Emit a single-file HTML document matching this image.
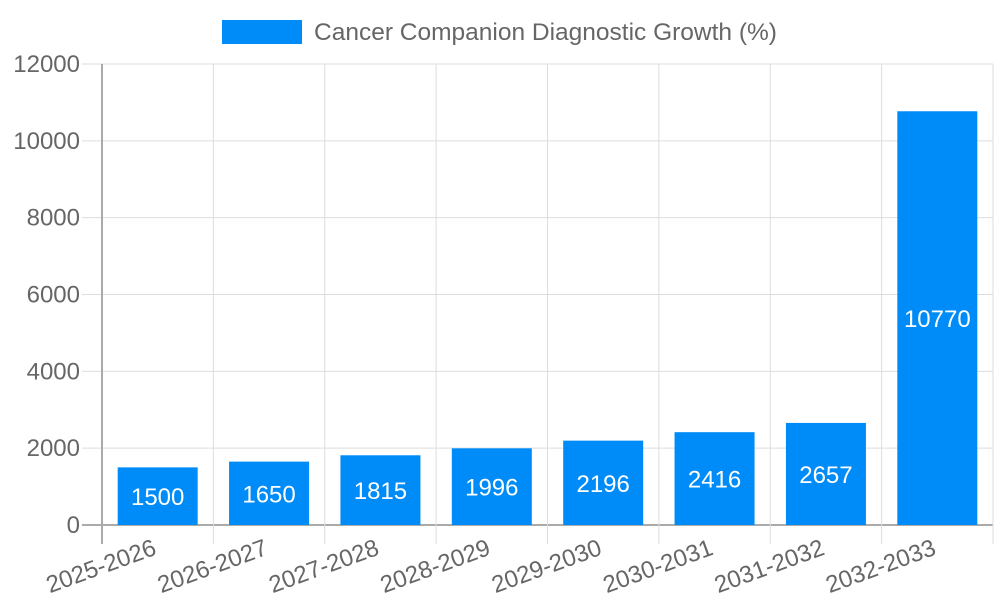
<!DOCTYPE html>
<html><head><meta charset="utf-8"><style>body{margin:0;background:#fff}svg{font-family:"Liberation Sans",sans-serif}</style></head>
<body>
<svg id="c" width="1000" height="600">
<rect x="222" y="20" width="80" height="24" fill="#008cf8"/>
<text x="314" y="40" font-size="24.5" fill="#666">Cancer Companion Diagnostic Growth (%)</text>
<g id="g"></g>
</svg>
<script>
const categories=["2025-2026","2026-2027","2027-2028","2028-2029","2029-2030","2030-2031","2031-2032","2032-2033"];
const values=[1500,1650,1815,1996,2196,2416,2657,10770];
const yTicks=[0,2000,4000,6000,8000,10000,12000];
const X0=102,X1=993,Y0=525,Y1=64,YMAX=12000;
const ns="http://www.w3.org/2000/svg",g=document.getElementById('g');
const bw=(X1-X0)/categories.length;
const y=v=>Y0-(v/YMAX)*(Y0-Y1);
const xc=i=>X0+bw*(i+0.5);
function mk(t,a,p){const e=document.createElementNS(ns,t);for(const k in a)e.setAttribute(k,a[k]);(p||g).appendChild(e);return e;}
yTicks.forEach(t=>{
 const l=mk('line',{x1:82,x2:X1,y1:y(t),y2:y(t),stroke:t===0?'#aaa':'#ddd','stroke-width':t===0?2:1});
 
 
 const tx=mk('text',{x:80,y:y(t)+8,'text-anchor':'end','font-size':24,fill:'#666'});tx.textContent=t;
 
 
});
for(let i=0;i<=categories.length;i++){
 const x=X0+bw*i;
 const l=mk('line',{x1:x,x2:x,y1:Y1,y2:544,stroke:i===0?'#aaa':'#ddd','stroke-width':i===0?2:1});
 
 
}
categories.forEach((c,i)=>{
 const r=mk('rect',{x:xc(i)-40,y:y(values[i]),width:80,height:Y0-y(values[i]),fill:'#008cf8'});
 
 
 const v=mk('text',{x:xc(i),y:(y(values[i])+Y0)/2+9,'text-anchor':'middle','font-size':24,fill:'#fff'});v.textContent=values[i];
 
 
 const t=mk('text',{x:xc(i),y:554,'text-anchor':'end','font-size':24,fill:'#666',transform:`rotate(-20 ${xc(i)} 554)`});t.textContent=c;
 
 
});
</script>
</body></html>
